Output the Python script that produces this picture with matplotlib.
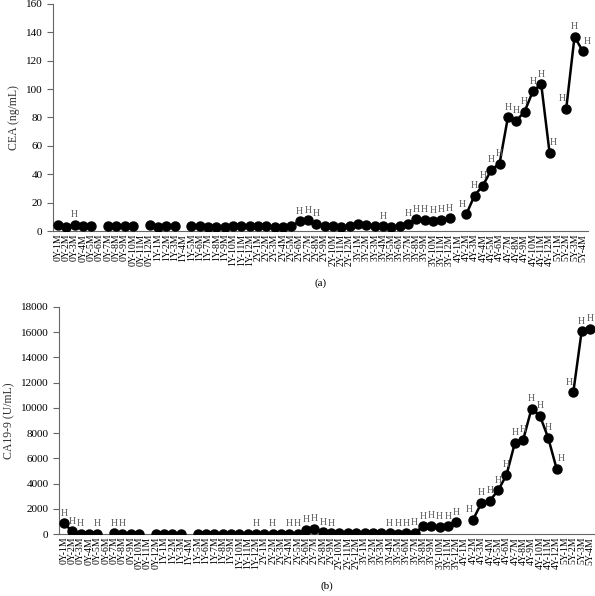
import matplotlib
matplotlib.use("Agg")
import matplotlib.pyplot as plt
import numpy as np

plt.rcParams['font.family'] = ['Liberation Serif', 'DejaVu Serif']

nan = np.nan

# time points 0Y-1M ... 5Y-4M
labels = []
for y in range(6):
    for m in range(1, 13):
        if y == 5 and m > 4:
            break
        labels.append("%dY-%dM" % (y, m))

cea = [4.5, 3, 4.5, 3.5, 3.5, nan, 3.5, 3.5, 3.5, 3.8, nan, 4.2,
       3, 3.5, 3.5, nan, 3.5, 3.5, 3, 2.8, 3, 3.2, 3.5, 3.8,
       3.5, 3.2, 3, 2.5, 3.2, 7, 7.7, 5, 3.5, 3.2, 3, 3.2,
       4.7, 4, 3.8, 3.2, 3, 3.4, 4.9, 8.2, 7.8, 7.4, 7.8, 9,
       nan, 11.7, 25, 32, 43, 47.5, 80, 77.7, 84, 98.5, 103.5, 55.3,
       nan, 86, 137, 126.5]
cea_high = [2, 29, 30, 31, 39, 42, 43, 44, 45, 46, 47,
            49, 50, 51, 52, 53, 54, 55, 56, 57, 58, 59, 61, 62, 63]

ca199 = [850, 200, 40, 30, 30, nan, 50, 40, 30, 30, nan, 30,
         30, 30, 30, nan, 40, 40, 40, 40, 40, 40, 40, 40,
         40, 40, 40, 40, 40, 330, 430, 150, 60, 50, 50, 50,
         50, 50, 50, 50, 40, 50, 80, 600, 660, 560, 600, 920,
         nan, 1150, 2460, 2640, 3460, 4680, 7215, 7480, 9935, 9380, 7610, 5180,
         nan, 11230, 16070, 16260]
ca199_high = [0, 1, 2, 4, 6, 7, 23, 25, 27, 28, 29, 30, 31, 32,
              39, 40, 41, 42, 43, 44, 45, 46, 47,
              49, 50, 51, 52, 53, 54, 55, 56, 57, 58, 59, 61, 62, 63]

fig = plt.figure(figsize=(5.95, 5.96), dpi=100)
ax1 = fig.add_axes([0.089, 0.6124, 0.899, 0.381])
ax2 = fig.add_axes([0.099, 0.104, 0.901, 0.381])

def draw(ax, vals, high, ylim, yticks, ylabel, tag):
    x = np.arange(len(labels))
    v = np.array(vals, dtype=float)
    ax.plot(x, v, color='black', linewidth=1.8, marker='o', markersize=6.5, zorder=3)
    span = ylim[1] - ylim[0]
    for i in high:
        # nudge the "H" away from the line: left when rising, right when falling
        dx = 0
        if (i + 1 < len(v) and not np.isnan(v[i + 1]) and v[i + 1] - v[i] > 0.03 * span
                and (i - 1) not in high):
            dx = -3
        elif (i > 0 and not np.isnan(v[i - 1]) and v[i - 1] - v[i] > 0.03 * span
                and (i + 1) not in high):
            dx = 3
        ax.annotate("H", (x[i], v[i]), xytext=(dx, 4), textcoords='offset points',
                    ha='center', va='bottom', fontsize=7, color='#555555')
    ax.set_xlim(-0.6, len(labels) - 0.4)
    ax.set_ylim(ylim)
    ax.set_yticks(yticks)
    ax.set_xticks(x)
    ax.set_xticklabels(labels, rotation=90, fontsize=7)
    ax.tick_params(axis='x', length=0, pad=2)
    ax.tick_params(axis='y', labelsize=8, length=4, color='#666666')
    for s in ['top', 'right']:
        ax.spines[s].set_visible(False)
    for s in ['left', 'bottom']:
        ax.spines[s].set_color('#666666')
    ax.set_ylabel(ylabel, fontsize=8.5, color='#333333')
    ax.text(0.5, -0.21, tag, transform=ax.transAxes, ha='center', va='top', fontsize=8)

draw(ax1, cea, cea_high, (0, 160), range(0, 161, 20), "CEA (ng/mL)", "(a)")
draw(ax2, ca199, ca199_high, (0, 18000), range(0, 18001, 2000), "CA19-9 (U/mL)", "(b)")

plt.savefig("out.png", dpi=100)
